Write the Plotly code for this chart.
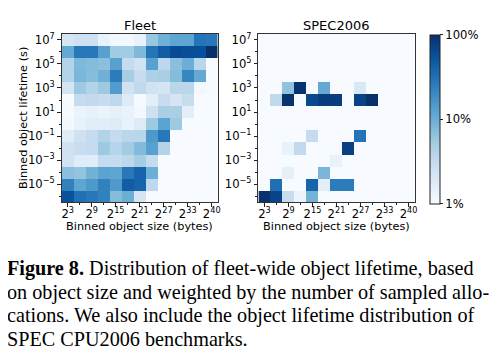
import numpy as np
import plotly.graph_objects as go

# Bins: object size exponents (2^k bytes) and lifetime exponents (10^k s)
size_exp = [3, 6, 9, 12, 15, 18, 21, 24, 27, 30, 33, 36, 39]
life_exp = [7, 6, 5, 4, 3, 2, 1, 0, -1, -2, -3, -4, -5, -6]  # top to bottom

x_tick_vals = [3, 9, 15, 21, 27, 33, 39]
x_tick_text = ["2<sup>3</sup>", "2<sup>9</sup>", "2<sup>15</sup>", "2<sup>21</sup>",
               "2<sup>27</sup>", "2<sup>33</sup>", "2<sup>40</sup>"]
y_tick_vals = [7, 5, 3, 1, -1, -3, -5]
y_tick_text = ["10<sup>7</sup>", "10<sup>5</sup>", "10<sup>3</sup>", "10<sup>1</sup>",
               "10<sup>−1</sup>", "10<sup>−3</sup>", "10<sup>−5</sup>"]

# Percent of sampled allocations (rows: lifetime top->bottom, cols: size)
fleet_pct = [
    [2.2, 2.6, 2.6, 1.4, 1.1, 1.1, 1.4, 6.0, 9.5, 12, 12, 30, 28],
    [11, 28, 28, 13, 5.5, 5.3, 8.0, 30, 45, 62, 60, 58, 100],
    [4.2, 8.0, 7.5, 7.0, 13, 3.2, 2.4, 13, 3.6, 7.0, 10, 3.8, 1.0],
    [4.2, 8.5, 7.3, 9.5, 26, 5.0, 3.1, 4.6, 4.7, 7.5, 22, 11, 1.0],
    [2.3, 5.6, 4.2, 5.7, 14.5, 2.5, 3.4, 2.4, 2.2, 3.8, 3.8, 1.1, 1.05],
    [1.0, 3.2, 3.3, 3.0, 3.6, 1.8, 1.05, 1.6, 3.1, 2.2, 3.0, 1.0, 1.0],
    [1.05, 1.3, 1.45, 1.3, 1.5, 1.35, 1.1, 2.6, 4.7, 4.7, 1.6, 1.0, 1.0],
    [1.1, 1.4, 1.65, 1.65, 1.75, 1.4, 1.8, 5.6, 12.5, 5.7, 1.0, 1.0, 1.0],
    [1.7, 2.5, 3.2, 4.2, 3.2, 3.7, 3.8, 15.5, 28, 1.0, 1.0, 1.0, 1.0],
    [2.5, 2.9, 3.2, 5.6, 3.9, 5.3, 7.7, 13, 4.2, 1.0, 1.0, 1.0, 1.0],
    [2.4, 1.7, 1.7, 3.2, 3.2, 3.6, 5.0, 3.2, 1.0, 1.0, 1.0, 1.0, 1.0],
    [7.0, 6.4, 9.3, 12.5, 12, 28, 40, 10, 1.0, 1.0, 1.0, 1.0, 1.0],
    [24, 12, 15.5, 24, 15, 45, 40, 3.5, 1.0, 1.0, 1.0, 1.0, 1.0],
    [56, 32, 28, 24, 7.5, 10, 2.2, 1.0, 1.0, 1.0, 1.0, 1.0, 1.0],
]

spec_pct = [
    [1, 1, 1, 1, 1, 1, 1, 1, 1, 1, 1, 1, 1],
    [1, 1, 1, 1, 1, 1, 1, 1, 1, 1, 1, 1, 1],
    [1, 1, 1, 1, 1, 1, 1, 1, 1, 1, 1, 1, 1],
    [1, 1, 1, 1, 1, 1, 1, 1, 1, 1, 1, 1, 1],
    [1, 1, 6.5, 95, 1, 11, 1, 1, 2.0, 1, 1, 1, 1],
    [1, 3.4, 95, 1, 65, 80, 80, 1, 72, 100, 1, 1, 1],
    [1, 1, 1, 1, 1, 1, 1, 1, 1, 1, 1, 1, 1],
    [1, 1, 1, 1, 1, 1, 1, 1, 1, 1, 1, 1, 1],
    [1, 1, 1, 1, 3.2, 1, 1, 1, 30, 1, 1, 1, 1],
    [1, 1, 1.4, 3.3, 1, 1, 1, 75, 1, 1, 1, 1, 1],
    [1, 1, 1, 1, 1, 1, 1.4, 1, 1, 1, 1, 1, 1],
    [1, 1, 1.5, 1, 1, 8.5, 1, 1, 1, 1, 1, 1, 1],
    [1, 33, 1, 1, 40, 1.6, 26, 26, 1, 1, 1, 1, 1],
    [95, 70, 3.0, 1.3, 9.0, 1, 1, 1, 1, 1, 1, 1, 1],
]

caption_lines = [
    "<b>Figure 8.</b> Distribution of fleet-wide object lifetime, based",
    "on object size and weighted by the number of sampled allo-",
    "cations. We also include the object lifetime distribution of",
    "SPEC CPU2006 benchmarks.",
]

blues = ["#f7fbff", "#deebf7", "#c6dbef", "#9ecae1", "#6baed6",
         "#4292c6", "#2171b5", "#08519c", "#08306b"]
colorscale = [[i / 8, c] for i, c in enumerate(blues)]

# The page body has an 8px default margin; work in page pixel coordinates.
OFF = 8
W, H = 499 - OFF, 356 - OFF
def px(x): return (x - OFF) / W
def py(y): return 1 - (y - OFF) / H

fleet_dom = [px(62), px(219)]
spec_dom = [px(260), px(417)]
ydom = [py(201), py(31)]

fig = go.Figure()
fig.add_trace(go.Heatmap(
    x=size_exp, y=life_exp, z=np.log10(np.array(fleet_pct)),
    zmin=0, zmax=2, colorscale=colorscale, showscale=False,
    xaxis="x", yaxis="y"))
fig.add_trace(go.Heatmap(
    x=size_exp, y=life_exp, z=np.log10(np.array(spec_pct)),
    zmin=0, zmax=2, colorscale=colorscale, showscale=True,
    xaxis="x2", yaxis="y2",
    colorbar=dict(
        x=px(433), xanchor="left", xpad=0, ypad=0,
        y=py(117), yanchor="middle", len=170 / H, lenmode="fraction",
        thickness=10, thicknessmode="pixels",
        outlinecolor="#222", outlinewidth=1,
        tickvals=[0, 1, 2], ticktext=["1%", "10%", "100%"],
        ticks="outside", ticklen=3, tickcolor="#222",
        tickfont=dict(family="DejaVu Sans", size=11.6, color="black"),
    )))

tickfont = dict(family="DejaVu Sans", size=11.6, color="black")
axis_common = dict(showline=True, mirror=True, linecolor="#333", linewidth=1.3,
                   ticks="outside", ticklen=3.5, tickwidth=1, tickcolor="#222",
                   showgrid=False, zeroline=False, tickfont=tickfont, fixedrange=True)
xminor = dict(ticks="outside", ticklen=2, tickcolor="#222", tickvals=size_exp, showgrid=False)
yminor = dict(ticks="outside", ticklen=2, tickcolor="#222", tickvals=life_exp, showgrid=False)

xr = [size_exp[0] - 1.5, size_exp[-1] + 1.5]
yr = [life_exp[-1] - 0.5, life_exp[0] + 0.5]

fig.update_layout(
    width=W, height=H, margin=dict(l=0, r=0, t=0, b=0),
    paper_bgcolor="white", plot_bgcolor="white",
    xaxis=dict(domain=fleet_dom, anchor="y", range=xr, tickmode="array",
               tickvals=x_tick_vals, ticktext=x_tick_text, minor=xminor,
               ticklabelstandoff=-3, **axis_common),
    yaxis=dict(domain=ydom, anchor="x", range=yr, tickmode="array",
               tickvals=y_tick_vals, ticktext=y_tick_text, minor=yminor, **axis_common),
    xaxis2=dict(domain=spec_dom, anchor="y2", range=xr, tickmode="array",
                tickvals=x_tick_vals, ticktext=x_tick_text, minor=xminor,
                ticklabelstandoff=-3, **axis_common),
    yaxis2=dict(domain=ydom, anchor="x2", range=yr, tickmode="array",
                tickvals=y_tick_vals, ticktext=y_tick_text, minor=yminor, **axis_common),
)

ann = []
for name, dom in (("Fleet", fleet_dom), ("SPEC2006", spec_dom)):
    ann.append(dict(text=name, x=(dom[0] + dom[1]) / 2, y=py(23),
                    xanchor="center", yanchor="middle",
                    xref="paper", yref="paper", showarrow=False,
                    font=dict(family="DejaVu Sans", size=13, color="black")))
    ann.append(dict(text="Binned object size (bytes)", x=(dom[0] + dom[1]) / 2, y=py(225),
                    xanchor="center", yanchor="middle",
                    xref="paper", yref="paper", showarrow=False,
                    font=dict(family="DejaVu Sans", size=11.3, color="black")))
ann.append(dict(text="Binned object lifetime (s)", x=px(23), y=py(116), textangle=-90,
                xanchor="center", yanchor="middle",
                xref="paper", yref="paper", showarrow=False,
                font=dict(family="DejaVu Sans", size=11.3, color="black")))
for i, line in enumerate(caption_lines):
    ann.append(dict(text=line, x=px(5), y=py(268 + i * 23.6), xanchor="left", yanchor="middle",
                    xref="paper", yref="paper", showarrow=False,
                    font=dict(family="Liberation Serif", size=20.2, color="black")))
fig.update_layout(annotations=ann)

fig.write_html("out.html")
